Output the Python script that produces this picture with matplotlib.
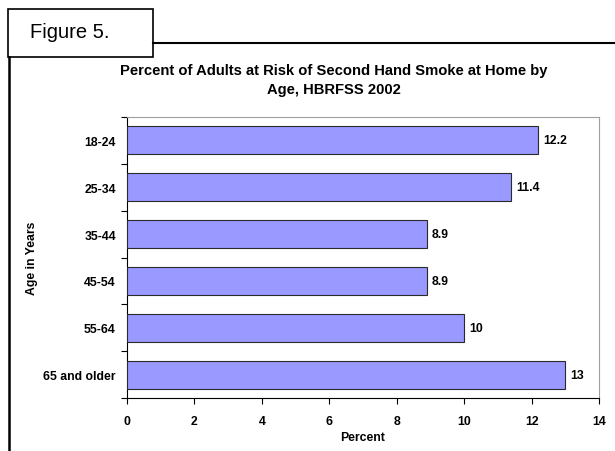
import matplotlib
matplotlib.use("Agg")
import matplotlib.pyplot as plt
from matplotlib.patches import Rectangle
from matplotlib.lines import Line2D

categories = ["18-24", "25-34", "35-44", "45-54", "55-64", "65 and older"]
values = [12.2, 11.4, 8.9, 8.9, 10, 13]
value_labels = ["12.2", "11.4", "8.9", "8.9", "10", "13"]
xticks = [0, 2, 4, 6, 8, 10, 12, 14]

plt.rcParams['font.family'] = ['Liberation Sans', 'DejaVu Sans']

fig = plt.figure(figsize=(6.15, 4.52), dpi=100)
W, H = 615, 452

def fx(x):
    return x / W

def fy(y):
    return 1 - y / H

FS = 8.8

# frame decorations
fig.add_artist(Rectangle((fx(8), fy(58)), fx(153) - fx(8), fy(10) - fy(58),
                         transform=fig.transFigure, fill=False, lw=1.2, ec='black'))
fig.add_artist(Line2D([fx(153), fx(615)], [fy(44), fy(44)], transform=fig.transFigure,
                      color='black', lw=1.5))
fig.add_artist(Line2D([fx(9), fx(9)], [fy(58), fy(452)], transform=fig.transFigure,
                      color='black', lw=1.8))
fig.text(fx(30), fy(33), "Figure 5.", fontsize=14.5, va='center', ha='left')

fig.text(fx(334), fy(71), "Percent of Adults at Risk of Second Hand Smoke at Home by",
         fontsize=10.6, fontweight='bold', ha='center', va='center')
fig.text(fx(334), fy(90), "Age, HBRFSS 2002",
         fontsize=10.6, fontweight='bold', ha='center', va='center')

ax = fig.add_axes([fx(127), fy(399), fx(599) - fx(127), fy(118) - fy(399)])
y = list(range(len(categories)))
ax.barh(y, values, height=0.6, color='#9999FF', edgecolor='#2a2a2a', linewidth=0.8, zorder=3)
ax.set_ylim(len(categories) - 0.5, -0.5)
ax.set_xlim(0, 14)
ax.set_xticks(xticks)
ax.set_xticklabels([str(t) for t in xticks], fontsize=FS, fontweight='bold')
ax.set_yticks([i - 0.5 for i in range(len(categories) + 1)])
ax.set_yticklabels([])
ax.set_yticks(y, minor=True)
ax.set_yticklabels(categories, minor=True, fontsize=FS, fontweight='bold')
ax.tick_params(axis='y', which='minor', length=0, pad=8)
ax.tick_params(axis='y', which='major', length=4, direction='out', width=0.8)
ax.tick_params(axis='x', length=4, direction='out', width=0.8, pad=8)
for s in ['top', 'right']:
    ax.spines[s].set_color('#a0a0a0')
    ax.spines[s].set_linewidth(0.8)
for s in ['left', 'bottom']:
    ax.spines[s].set_color('black')
    ax.spines[s].set_linewidth(0.8)

for yi, v, lab in zip(y, values, value_labels):
    ax.text(v + 0.14, yi, lab, fontsize=FS, fontweight='bold', va='center', ha='left')

fig.text(fx(363), fy(438), "Percent", fontsize=FS, fontweight='bold', ha='center', va='center')
fig.text(fx(32), fy(258), "Age in Years", fontsize=FS, fontweight='bold', rotation=90,
         ha='center', va='center')

fig.savefig("out.png", dpi=100)
